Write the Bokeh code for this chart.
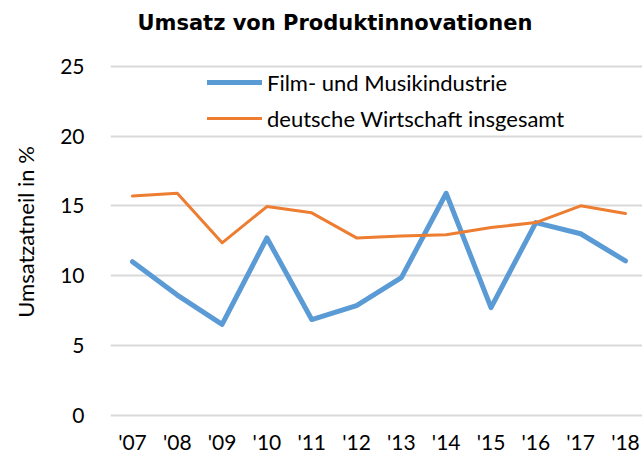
from bokeh.plotting import figure
from bokeh.models import Range1d, FixedTicker, Legend, LegendItem
from bokeh.embed import file_html
from bokeh.resources import INLINE

years = ["'07", "'08", "'09", "'10", "'11", "'12", "'13", "'14", "'15", "'16", "'17", "'18"]
film = [11.0, 8.6, 6.5, 12.7, 6.85, 7.85, 9.85, 15.9, 7.7, 13.8, 13.0, 11.05]
gesamt = [15.7, 15.9, 12.35, 14.95, 14.5, 12.7, 12.83, 12.93, 13.45, 13.8, 15.0, 14.45]
yticks = [0, 5, 10, 15, 20, 25]

title_text = "Umsatz von Produktinnovationen"
y_label = "Umsatzatneil in %"
name_film = "Film- und Musikindustrie"
name_gesamt = "deutsche Wirtschaft insgesamt"

FONT = "Lato"
x = list(range(len(years)))

p = figure(width=642, height=456, output_backend="svg", toolbar_location=None,
           x_range=Range1d(-0.49, 11.38), y_range=Range1d(-0.39, 26.64),
           min_border_left=110, min_border_right=0, min_border_top=10, min_border_bottom=10,
           title=title_text)
p.outline_line_color = None
p.background_fill_color = "white"
p.border_fill_color = "white"

p.title.text_font = "DejaVu Sans"
p.title.text_font_style = "bold"
p.title.text_font_size = "21px"
p.title.text_color = "#000000"
p.title.align = "left"
p.title.offset = 27
p.title.standoff = 17

# axes
p.xaxis.ticker = FixedTicker(ticks=x)
p.xaxis.major_label_overrides = {i: years[i] for i in x}
p.yaxis.ticker = FixedTicker(ticks=yticks)
for ax in (p.xaxis[0], p.yaxis[0]):
    ax.axis_line_color = None
    ax.major_tick_line_color = None
    ax.minor_tick_line_color = None
    ax.major_label_text_font = FONT
    ax.major_label_text_font_size = "21px"
    ax.major_label_text_color = "#000000"
p.xaxis.major_label_standoff = 2
p.yaxis.major_label_standoff = 20
p.yaxis.axis_label = y_label
p.yaxis.axis_label_text_font = FONT
p.yaxis.axis_label_text_font_size = "22px"
p.yaxis.axis_label_text_font_style = "normal"
p.yaxis.axis_label_text_color = "#000000"
p.yaxis.axis_label_standoff = 18

p.xgrid.grid_line_color = None
p.ygrid.grid_line_color = "#d9d9d9"
p.ygrid.grid_line_width = 2

r1 = p.line(x, film, line_color="#5b9bd5", line_width=5, line_join="round", line_cap="round")
r2 = p.line(x, gesamt, line_color="#ed7d31", line_width=3, line_join="round", line_cap="round")

legend = Legend(items=[LegendItem(label=name_film, renderers=[r1]),
                       LegendItem(label=name_gesamt, renderers=[r2])],
                location=(97, 287), padding=0, margin=0, spacing=6,
                glyph_width=55, glyph_height=30, label_height=30, label_standoff=5,
                label_text_font=FONT, label_text_font_size="22px", label_text_color="#000000",
                border_line_color=None, background_fill_alpha=0)
p.add_layout(legend, "center")

open("out.html", "w").write(file_html(p, INLINE))
